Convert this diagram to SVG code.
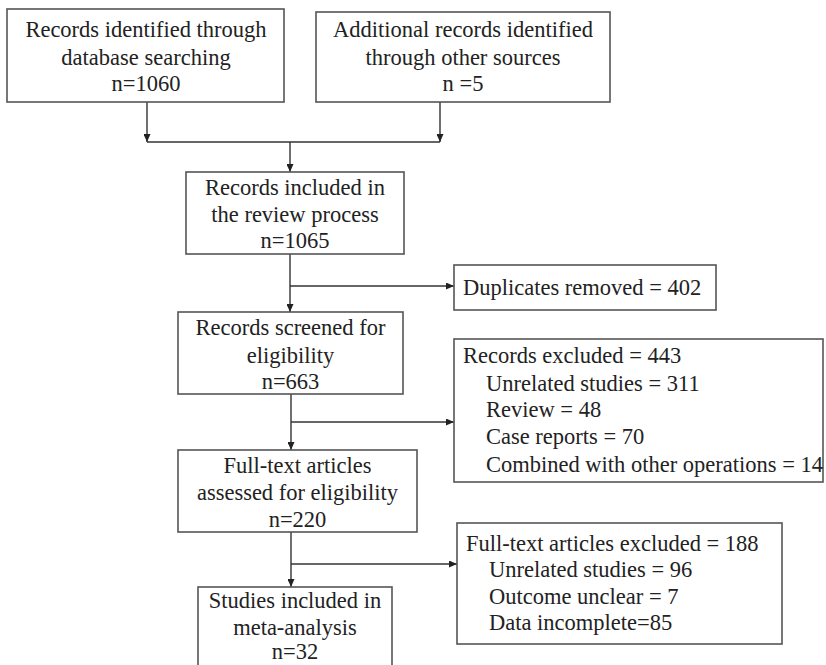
<svg xmlns="http://www.w3.org/2000/svg" width="826" height="665" viewBox="0 0 826 665">
<defs>
<marker id="ah" markerUnits="userSpaceOnUse" markerWidth="9" markerHeight="7" refX="8" refY="3.5" orient="auto">
<path d="M0,0 L8,3.5 L0,7 z" fill="#222"/>
</marker>
<style>
.box{fill:#fff;stroke:#555;stroke-width:1.6}
.t{font-size:22.5px;fill:#222}
.c{text-anchor:middle}
.ln{fill:none;stroke:#333;stroke-width:1.4}
.ar{fill:none;stroke:#333;stroke-width:1.4;marker-end:url(#ah)}
</style>
</defs>
<rect width="826" height="665" fill="#fff"/>
<g id="connectors">
<path class="ar" d="M147,102 V142"/>
<path class="ar" d="M440,102 V142"/>
<path class="ln" d="M147,142 H440"/>
<path class="ar" d="M290,142 V172"/>
<path class="ar" d="M290,254 V312"/>
<path class="ar" d="M290,286 H454"/>
<path class="ar" d="M291,394 V450"/>
<path class="ar" d="M291,422 H454"/>
<path class="ar" d="M291,532 V587"/>
<path class="ar" d="M291,564 H457"/>
</g>
<g font-family="'Liberation Serif', 'DejaVu Serif', serif">
<g id="n1">
<rect class="box" x="7" y="9" width="277" height="93"/>
<text class="t c" x="146" y="37">Records identified through</text>
<text class="t c" x="146" y="65">database searching</text>
<text class="t c" x="146" y="91">n=1060</text>
</g>
<g id="n2">
<rect class="box" x="316" y="12" width="294" height="90"/>
<text class="t c" x="463" y="37">Additional records identified</text>
<text class="t c" x="463" y="65">through other sources</text>
<text class="t c" x="463" y="91">n =5</text>
</g>
<g id="n3">
<rect class="box" x="186" y="172" width="218" height="82"/>
<text class="t c" x="295" y="195">Records included in</text>
<text class="t c" x="295" y="222">the review process</text>
<text class="t c" x="295" y="248">n=1065</text>
</g>
<g id="n4">
<rect class="box" x="454" y="265" width="262" height="45"/>
<text class="t" x="463" y="295">Duplicates removed = 402</text>
</g>
<g id="n5">
<rect class="box" x="178" y="312" width="225" height="82"/>
<text class="t c" x="290.5" y="335">Records screened for</text>
<text class="t c" x="290.5" y="363">eligibility</text>
<text class="t c" x="290.5" y="389">n=663</text>
</g>
<g id="n6">
<rect class="box" x="454" y="339" width="369" height="143"/>
<text class="t" x="463" y="363">Records excluded = 443</text>
<text class="t" x="486" y="391">Unrelated studies = 311</text>
<text class="t" x="486" y="417">Review = 48</text>
<text class="t" x="486" y="444">Case reports = 70</text>
<text class="t" x="486" y="472">Combined with other operations = 14</text>
</g>
<g id="n7">
<rect class="box" x="178" y="450" width="239" height="82"/>
<text class="t c" x="297.5" y="473">Full-text articles</text>
<text class="t c" x="297.5" y="500">assessed for eligibility</text>
<text class="t c" x="297.5" y="527">n=220</text>
</g>
<g id="n8">
<rect class="box" x="457" y="523" width="325" height="121"/>
<text class="t" x="466" y="551">Full-text articles excluded = 188</text>
<text class="t" x="489" y="577">Unrelated studies = 96</text>
<text class="t" x="489" y="604">Outcome unclear = 7</text>
<text class="t" x="489" y="630">Data incomplete=85</text>
</g>
<g id="n9">
<rect class="box" x="198" y="587" width="194" height="95"/>
<text class="t c" x="295" y="608">Studies included in</text>
<text class="t c" x="295" y="635">meta-analysis</text>
<text class="t c" x="295" y="659">n=32</text>
</g>
</g>
</svg>
